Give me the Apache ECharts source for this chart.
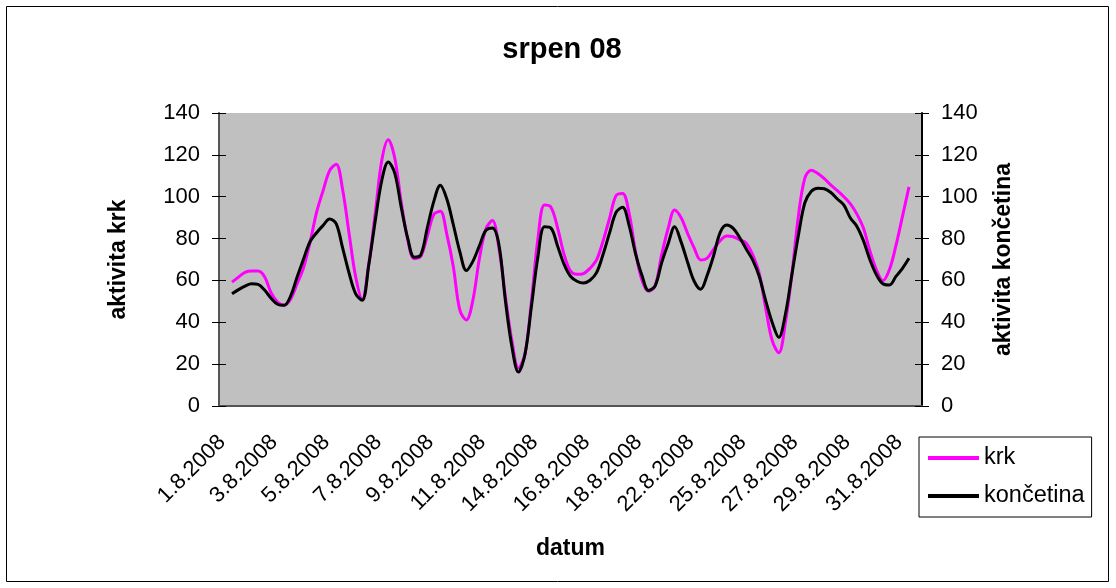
<!DOCTYPE html>
<html>
<head>
<meta charset="utf-8">
<script src="https://cdn.jsdelivr.net/npm/echarts@6/dist/echarts.min.js"></script>
<style>
html,body{margin:0;padding:0;background:#fff;}
#chart{width:1116px;height:588px;}
</style>
</head>
<body>
<div id="chart"></div>
<script>
// categories (27 records on the date axis; every second one is labelled)
const days = ['1.8.2008','2.8.2008','3.8.2008','4.8.2008','5.8.2008','6.8.2008','7.8.2008','8.8.2008','9.8.2008','10.8.2008','11.8.2008','13.8.2008','14.8.2008','15.8.2008','16.8.2008','17.8.2008','18.8.2008','20.8.2008','22.8.2008','23.8.2008','25.8.2008','26.8.2008','27.8.2008','28.8.2008','29.8.2008','30.8.2008','31.8.2008'];
// readings per category step (values are read every quarter of a category)
const STEPS = 4;
const krk = [59.2,61.6,63.9,64.5,64.5,61.8,54.1,49.6,48.1,51,58.4,66.2,78.4,92.6,103,112.5,115.5,103.2,82.1,61.6,51,67.5,92,117.2,127.2,118.5,97.3,79.3,70.4,71.5,81.2,91.5,93,82,66.5,45.8,41.1,50.5,70.4,84.6,88.6,75.5,52.4,31,18.1,24.6,50.1,80,96,95,85.3,72.6,64.5,62.9,63.3,65.8,69.8,78.8,89.7,100.5,101.5,92.2,73.4,60,54.8,57.4,72.2,84.8,93.6,89.9,82.4,75.5,69.8,70.7,75,79,81.2,80.9,79.4,77.8,72.2,63.3,46.5,31.1,25.5,39.5,62.6,90.5,108.9,112.7,111.1,108.6,105.5,102.9,100,96.6,91.7,85,74.1,65.1,59.9,65.2,76.7,90.6,104.7];
const koncetina = [53.6,55.6,57.3,58.4,58.1,55.4,51.5,48.6,48.1,52.5,61.6,70.3,78.6,82.8,86.3,89.3,87.1,75.4,63.3,53.6,50.5,67.2,88.4,107.7,116.6,111.3,94.9,80.1,71.1,72.2,85.1,97.8,105.5,98.9,86.6,73.7,64.7,69.1,76.5,83.9,85,77.2,50.3,28.3,16.2,24.6,47.6,71.4,85.6,85,76.6,67.8,62,59.6,58.8,60.1,63.7,72.4,82.7,92.5,95,86.3,72.7,62.2,55.2,57.4,68.4,77.5,85.6,78.3,68.6,59.6,55.8,62.5,72,83,86.5,84.9,80.4,75,69.7,61.9,50.2,39.8,32.8,43.6,62.6,81.3,97.1,102.6,104.1,103.8,102,98.9,96,89.8,85.8,79,69.9,62.7,58.4,57.8,61.9,65.8,70.6];
const seriesNames = ['krk','končetina'];
const yTicks = {min:0, max:140, interval:20};

const FONT = "'Liberation Sans', Arial, sans-serif";
const chart = echarts.init(document.getElementById('chart'), null, {renderer:'canvas'});

function yAxisBase(pos, name, gap, withLabels, inside, lineColor){
  return {
    type:'value', position:pos, min:yTicks.min, max:yTicks.max, interval:yTicks.interval,
    name: withLabels ? name : '', nameLocation:'middle', nameGap:gap, nameRotate:90,
    nameTextStyle:{fontFamily:FONT, fontSize:23, fontWeight:'bold', color:'#000'},
    axisLine:{show:withLabels, onZero:false, lineStyle:{color:lineColor, width:2}},
    axisTick:{show:true, inside:inside, length:7, lineStyle:{color:'#000', width:1}},
    axisLabel:{show:withLabels, margin:19, fontFamily:FONT, fontSize:22, color:'#000'},
    splitLine:{show:false}
  };
}

const option = {
  animation:false,
  backgroundColor:'#ffffff',
  title:{
    text:'srpen 08', left:557, top:30, textAlign:'center',
    textStyle:{fontFamily:FONT, fontSize:29, fontWeight:'bold', color:'#000'}
  },
  graphic:[{
    type:'rect', z:-10, silent:true,
    shape:{x:6.5, y:6.5, width:1102, height:575},
    style:{fill:'none', stroke:'#000', lineWidth:1}
  }],
  legend:{
    data:seriesNames, orient:'vertical', left:919, top:437,
    icon:'rect', itemWidth:51, itemHeight:4, itemGap:14,
    padding:[9,7,9,9], borderColor:'#000', borderWidth:1,
    textStyle:{fontFamily:FONT, fontSize:23.5, lineHeight:23, color:'#000'}
  },
  grid:{left:219, right:194, top:113, bottom:182, show:true, backgroundColor:'#C0C0C0', borderWidth:0},
  xAxis:[
    {
      type:'category', data:days, boundaryGap:true,
      name:'datum', nameLocation:'middle', nameGap:131,
      nameTextStyle:{fontFamily:FONT, fontSize:23, fontWeight:'bold', color:'#000'},
      axisLine:{onZero:false, lineStyle:{color:'#555', width:2}},
      axisTick:{interval:0, length:6, lineStyle:{color:'#000', width:1}},
      axisLabel:{interval:1, rotate:45, margin:23, padding:[0,14,0,0], fontFamily:FONT, fontSize:22, color:'#000'},
      splitLine:{show:false}
    },
    {type:'value', min:-0.5, max:days.length-0.5, show:false},
    {
      type:'category', data:days, boundaryGap:true, position:'bottom',
      axisLine:{show:false, onZero:false},
      axisTick:{interval:0, inside:true, length:4, lineStyle:{color:'#000', width:1}},
      axisLabel:{show:false}, splitLine:{show:false}
    }
  ],
  yAxis:[
    yAxisBase('left','aktivita krk',89,true,false,'#555'),
    yAxisBase('right','aktivita končetina',70,true,false,'#000'),
    yAxisBase('left','',0,false,true,'#555'),
    yAxisBase('right','',0,false,true,'#000')
  ],
  series:[
    {
      name:seriesNames[0], type:'line', xAxisIndex:1, yAxisIndex:0,
      data:krk.map((v,i)=>[i/STEPS, v]), smooth:0.35, showSymbol:false, symbol:'none',
      lineStyle:{color:'#FF00FF', width:3}, itemStyle:{color:'#FF00FF'}, z:3
    },
    {
      name:seriesNames[1], type:'line', xAxisIndex:1, yAxisIndex:1,
      data:koncetina.map((v,i)=>[i/STEPS, v]), smooth:0.35, showSymbol:false, symbol:'none',
      lineStyle:{color:'#000000', width:3}, itemStyle:{color:'#000000'}, z:4
    }
  ]
};
chart.setOption(option);
</script>
</body>
</html>
